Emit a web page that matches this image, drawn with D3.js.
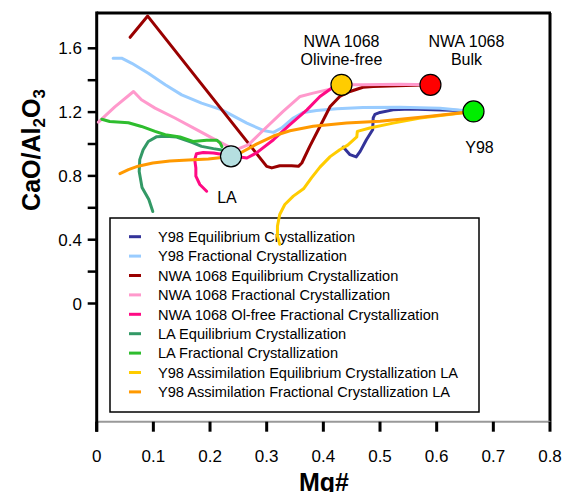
<!DOCTYPE html>
<html>
<head>
<meta charset="utf-8">
<script src="https://cdn.jsdelivr.net/npm/d3@7"></script>
<style>
  body { margin: 0; background: #fff; }
  svg { font-family: "Liberation Sans", Arial, sans-serif; }
</style>
</head>
<body>
<script>
// series values: [Mg#, CaO/Al2O3]
const y98Equilibrium = [[0.435,0.981],[0.447,0.933],[0.458,0.919],[0.465,0.954],[0.476,1.027],[0.487,1.089],[0.488,1.164],[0.491,1.186],[0.500,1.198],[0.523,1.214],[0.553,1.219],[0.594,1.214],[0.641,1.210],[0.665,1.204]];
const y98Fractional = [[0.029,1.538],[0.044,1.538],[0.062,1.506],[0.091,1.444],[0.121,1.371],[0.150,1.308],[0.185,1.256],[0.221,1.214],[0.265,1.131],[0.294,1.085],[0.312,1.073],[0.326,1.100],[0.347,1.163],[0.365,1.198],[0.388,1.210],[0.424,1.221],[0.470,1.229],[0.535,1.231],[0.606,1.224],[0.665,1.204]];
const nwaEquilibrium = [[0.059,1.669],[0.090,1.802],[0.300,0.860],[0.309,0.850],[0.323,0.864],[0.344,0.864],[0.356,0.860],[0.362,0.881],[0.376,0.985],[0.394,1.110],[0.412,1.235],[0.429,1.298],[0.447,1.329],[0.470,1.356],[0.488,1.360],[0.589,1.371]];
const nwaFractional = [[0.003,1.137],[0.032,1.233],[0.065,1.329],[0.079,1.277],[0.103,1.225],[0.138,1.163],[0.173,1.096],[0.209,1.027],[0.232,0.985],[0.250,0.969],[0.268,0.996],[0.294,1.086],[0.329,1.204],[0.359,1.298],[0.382,1.319],[0.412,1.344],[0.432,1.371],[0.470,1.371],[0.535,1.375],[0.589,1.371]];
const nwaOlFree = [[0.194,0.704],[0.182,0.746],[0.175,0.798],[0.175,0.850],[0.173,0.902],[0.176,0.939],[0.188,0.947],[0.206,0.944],[0.237,0.927],[0.265,0.912],[0.282,0.944],[0.312,1.027],[0.341,1.121],[0.371,1.214],[0.394,1.298],[0.417,1.356],[0.432,1.371]];
const laEquilibrium = [[0.099,0.577],[0.092,0.652],[0.080,0.727],[0.075,0.827],[0.076,0.902],[0.082,0.964],[0.091,1.016],[0.106,1.046],[0.122,1.048],[0.141,1.044],[0.168,1.010],[0.185,0.985],[0.206,0.971],[0.229,0.958]];
const laFractional = [[0.009,1.155],[0.023,1.141],[0.056,1.133],[0.079,1.110],[0.103,1.079],[0.121,1.058],[0.147,1.044],[0.170,1.016],[0.194,1.024],[0.212,1.024],[0.218,1.006],[0.221,0.983]];
const y98AssimEq = [[0.323,0.371],[0.319,0.423],[0.319,0.485],[0.323,0.558],[0.332,0.621],[0.347,0.673],[0.365,0.719],[0.379,0.788],[0.394,0.855],[0.412,0.921],[0.429,0.964],[0.443,0.993],[0.459,1.044],[0.460,1.079],[0.482,1.100],[0.523,1.131],[0.571,1.163],[0.618,1.183],[0.665,1.204]];
const y98AssimFrac = [[0.041,0.814],[0.056,0.839],[0.073,0.861],[0.099,0.881],[0.129,0.893],[0.162,0.900],[0.197,0.906],[0.237,0.921],[0.256,0.948],[0.282,0.999],[0.312,1.050],[0.341,1.083],[0.382,1.111],[0.441,1.131],[0.500,1.143],[0.576,1.169],[0.665,1.204]];

const seriesNames = [
  "Y98 Equilibrium Crystallization",
  "Y98 Fractional Crystallization",
  "NWA 1068 Equilibrium Crystallization",
  "NWA 1068 Fractional Crystallization",
  "NWA 1068 Ol-free Fractional Crystallization",
  "LA Equilibrium Crystallization",
  "LA Fractional Crystallization",
  "Y98 Assimilation Equilibrium Crystallization LA",
  "Y98 Assimilation Fractional Crystallization LA",
];
const seriesData = [y98Equilibrium, y98Fractional, nwaEquilibrium, nwaFractional, nwaOlFree, laEquilibrium, laFractional, y98AssimEq, y98AssimFrac];

// bulk compositions
const pointNames = ["NWA 1068 Olivine-free", "NWA 1068 Bulk", "Y98", "LA"];
const pointMg = [0.432, 0.589, 0.665, 0.237];
const pointCa = [1.371, 1.371, 1.204, 0.9225];

const xTicks = [0, 0.1, 0.2, 0.3, 0.4, 0.5, 0.6, 0.7, 0.8];
const yTicks = [0, 0.2, 0.4, 0.6, 0.8, 1.0, 1.2, 1.4, 1.6];
const yLabels = [0, 0.4, 0.8, 1.2, 1.6];

const colores = ["#333399", "#99ccff", "#990000", "#ff99cc", "#ff0a84", "#339966", "#2ebd2e", "#ffcc00", "#ff9900"];
const puntoColores = ["#ffcc00", "#ff0000", "#00ee00", "#b5dfe0"];

const width = 565;
const height = 492;
const margin = { top: 13, left: 96.7, right: 15, bottom: 70 };

const svg = d3.select("body").append("svg")
  .attr("width", width)
  .attr("height", height);

const x = d3.scaleLinear().domain([0, 0.8]).range([margin.left, 550]);
const y = d3.scaleLinear().domain([0, 1.6]).range([303.5, 48.3]);
const yBottom = 421.7;

// frame: top + right black, bottom gray
svg.append("line").attr("x1", x(0)).attr("x2", x(0.8) + 1).attr("y1", margin.top).attr("y2", margin.top)
  .attr("stroke", "#000").attr("stroke-width", 3);
svg.append("line").attr("x1", x(0.8)).attr("x2", x(0.8)).attr("y1", margin.top).attr("y2", yBottom)
  .attr("stroke", "#000").attr("stroke-width", 3);
svg.append("line").attr("x1", x(0)).attr("x2", x(0.8)).attr("y1", yBottom).attr("y2", yBottom)
  .attr("stroke", "#999").attr("stroke-width", 2);

// y axis
const ejeY = svg.append("g");
ejeY.append("line").attr("x1", x(0)).attr("x2", x(0)).attr("y1", margin.top - 1.5).attr("y2", yBottom + 10)
  .attr("stroke", "#000").attr("stroke-width", 3);
ejeY.selectAll(".tick").data(yTicks).join("line")
  .attr("x1", x(0) - 9).attr("x2", x(0))
  .attr("y1", (d) => y(d)).attr("y2", (d) => y(d))
  .attr("stroke", "#000").attr("stroke-width", 2.5);
ejeY.selectAll("text").data(yLabels).join("text")
  .attr("x", 82).attr("y", (d) => y(d))
  .attr("dy", "0.36em")
  .attr("text-anchor", "end")
  .attr("font-size", 17)
  .text((d) => (d === 0 ? "0" : d3.format(".1f")(d)));

// x axis
const ejeX = svg.append("g");
ejeX.selectAll("line").data(xTicks).join("line")
  .attr("x1", (d) => x(d)).attr("x2", (d) => x(d))
  .attr("y1", yBottom).attr("y2", yBottom + 10)
  .attr("stroke", "#000").attr("stroke-width", 3);
ejeX.selectAll("text").data(xTicks).join("text")
  .attr("x", (d) => x(d)).attr("y", 462)
  .attr("text-anchor", "middle")
  .attr("font-size", 17)
  .text((d) => (d === 0 ? "0" : d3.format(".1f")(d)));

// axis titles
svg.append("text")
  .attr("x", 324).attr("y", 490.5)
  .attr("text-anchor", "middle")
  .attr("font-size", 25).attr("font-weight", "bold")
  .text("Mg#");

const tituloY = svg.append("text")
  .attr("transform", "translate(40,150) rotate(-90)")
  .attr("text-anchor", "middle")
  .attr("font-size", 25).attr("font-weight", "bold");
tituloY.append("tspan").text("CaO/Al");
tituloY.append("tspan").attr("font-size", 17).attr("dy", 5).text("2");
tituloY.append("tspan").attr("dy", -5).text("O");
tituloY.append("tspan").attr("font-size", 17).attr("dy", 5).text("3");

// legend
const leyenda = svg.append("g");
leyenda.append("rect")
  .attr("x", 110).attr("y", 218).attr("width", 369).attr("height", 194)
  .attr("fill", "#fff").attr("stroke", "#000").attr("stroke-width", 1.5);
const filas = leyenda.selectAll("g").data(seriesNames).join("g")
  .attr("transform", (d, i) => `translate(0, ${236.7 + i * 19.4})`);
filas.append("line")
  .attr("x1", 129).attr("x2", 141)
  .attr("stroke", (d, i) => colores[i]).attr("stroke-width", 3);
filas.append("text")
  .attr("x", 158).attr("dy", "0.36em")
  .attr("font-size", 14.6)
  .text((d) => d);

// curves
const linea = d3.line().x((d) => x(d[0])).y((d) => y(d[1]));
svg.append("g").selectAll("path").data(seriesData).join("path")
  .attr("d", linea)
  .attr("fill", "none")
  .attr("stroke", (d, i) => colores[i])
  .attr("stroke-width", 3)
  .attr("stroke-linejoin", "round")
  .attr("stroke-linecap", "round");

// points
svg.append("g").selectAll("circle").data(pointNames).join("circle")
  .attr("cx", (d, i) => x(pointMg[i]))
  .attr("cy", (d, i) => y(pointCa[i]))
  .attr("r", 10.5)
  .attr("fill", (d, i) => puntoColores[i])
  .attr("stroke", "#000").attr("stroke-width", 1.2);

// point labels
const etiquetas = [
  { lines: ["NWA 1068", "Olivine-free"], i: 0, dx: 0, dy: -38 },
  { lines: ["NWA 1068", "Bulk"], i: 1, dx: 36, dy: -38 },
  { lines: ["Y98"], i: 2, dx: 6, dy: 42 },
  { lines: ["LA"], i: 3, dx: -4, dy: 47 },
];
etiquetas.forEach((e) => {
  const t = svg.append("text")
    .attr("text-anchor", "middle")
    .attr("font-size", 16);
  e.lines.forEach((l, k) => {
    t.append("tspan")
      .attr("x", x(pointMg[e.i]) + e.dx)
      .attr("y", y(pointCa[e.i]) + e.dy + k * 18.5)
      .text(l);
  });
});
</script>
</body>
</html>
